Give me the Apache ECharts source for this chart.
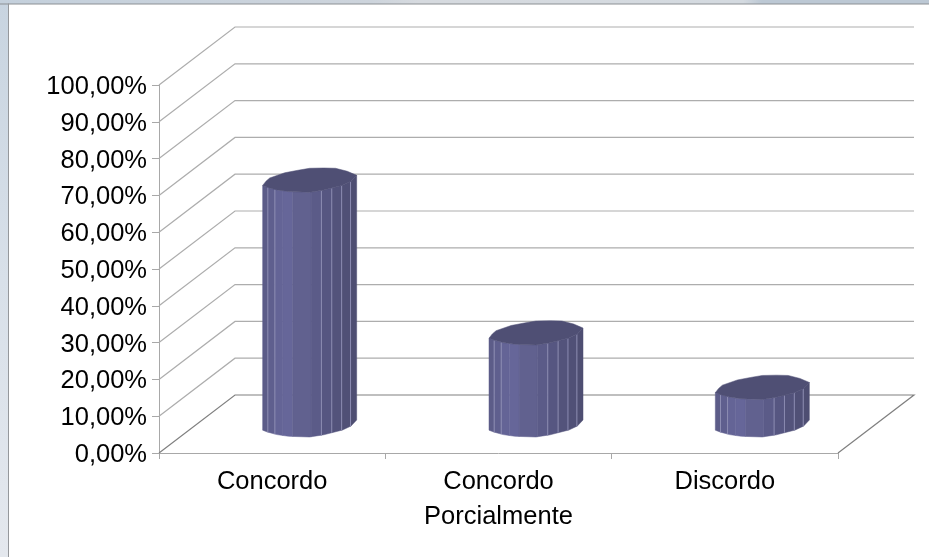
<!DOCTYPE html>
<html>
<head>
<meta charset="utf-8">
<style>html,body{margin:0;padding:0;background:#fff}#c{width:929px;height:557px}</style>
<script src="https://cdn.jsdelivr.net/npm/echarts@6/dist/echarts.min.js"></script>
</head>
<body>
<div id="c"></div>
<script>
var categories = ['Concordo', 'Concordo\nPorcialmente', 'Discordo'];
var percentValues = [66.5, 25, 10.2];
var tickValues = [0, 10, 20, 30, 40, 50, 60, 70, 80, 90, 100];
var tickLabels = ['0,00%', '10,00%', '20,00%', '30,00%', '40,00%', '50,00%', '60,00%', '70,00%', '80,00%', '90,00%', '100,00%'];

var DEPTH_X = 76, DEPTH_Y = -58;
var BAR_OFF_X = 37.5, BAR_OFF_Y = -28, R = 47;
var facetF = [-1, -0.89, -0.74, -0.57, -0.36, 0.03, 0.25, 0.47, 0.68, 0.87, 1];
var facetColor = ['#5c5c88', '#5f5f8e', '#646496', '#666699', '#61618f', '#5b5b88', '#565681', '#53537b', '#505076', '#4e4e72'];
var facetLine = [false, true, true, false, false, false, true, true, true, true, false];
var frontProfile = [[-1, 5.2], [-0.9, 7], [-0.7, 9.6], [-0.45, 11.3], [0, 12], [0.3, 9.8], [0.7, 5], [0.88, 1], [1, -5]];
var backProfile = [[-1, 5.2], [-0.93, 1], [-0.85, -2.3], [-0.53, -7.5], [-0.25, -10], [0, -12], [0.3, -12.3], [0.55, -12], [0.8, -9], [1, -5]];

function profileAt(p, f) {
  for (var i = 0; i < p.length - 1; i++) {
    if (f <= p[i + 1][0]) {
      var t = (f - p[i][0]) / (p[i + 1][0] - p[i][0]);
      return p[i][1] + t * (p[i + 1][1] - p[i][1]);
    }
  }
  return p[p.length - 1][1];
}

function renderWall(params, api) {
  var v = api.value(1);
  var cs = params.coordSys;
  var y = api.coord([0, v])[1];
  var x0 = cs.x, x1 = cs.x + cs.width;
  var stroke = v === 0 ? '#808080' : '#adadad';
  var pts = [[x0, y], [x0 + DEPTH_X, y + DEPTH_Y], [x1 + DEPTH_X, y + DEPTH_Y]];
  if (v === 0) pts.push([x1, y]);
  return { type: 'polyline', shape: { points: pts }, style: { stroke: stroke, fill: null, lineWidth: 1.2 }, silent: true };
}

function renderBar(params, api) {
  var base = api.coord([api.value(0), 0]);
  var top = api.coord([api.value(0), api.value(1)]);
  var cx = base[0] + BAR_OFF_X, yb = base[1] + BAR_OFF_Y, yt = top[1] + BAR_OFF_Y;
  function px(f) { return cx + R * f; }
  var kids = [];
  for (var i = 0; i < facetF.length - 1; i++) {
    var a = facetF[i], b = facetF[i + 1];
    var inner = frontProfile.filter(function (p) { return p[0] > a && p[0] < b; });
    var edge = [[a, profileAt(frontProfile, a)]].concat(inner, [[b, profileAt(frontProfile, b)]]);
    var pts = [];
    edge.forEach(function (p) { pts.push([px(p[0]), yt + p[1]]); });
    edge.slice().reverse().forEach(function (p) { pts.push([px(p[0]), yb + p[1]]); });
    kids.push({
      type: 'polygon',
      shape: { points: pts },
      style: { fill: facetColor[i], stroke: facetColor[i], lineWidth: 0.5 }
    });
  }
  for (var j = 0; j < facetLine.length; j++) {
    if (!facetLine[j]) continue;
    var f = facetF[j];
    kids.push({
      type: 'line',
      shape: { x1: px(f), y1: yt + profileAt(frontProfile, f), x2: px(f), y2: yb + profileAt(frontProfile, f) },
      style: { stroke: '#8c8cb2', lineWidth: 1 }
    });
  }
  var topPts = [];
  frontProfile.forEach(function (p) { topPts.push([px(p[0]), yt + p[1]]); });
  backProfile.slice().reverse().forEach(function (p) { topPts.push([px(p[0]), yt + p[1]]); });
  kids.push({ type: 'polygon', shape: { points: topPts }, style: { fill: '#4f4f74', stroke: '#4f4f74', lineWidth: 0.5 } });
  return { type: 'group', children: kids, silent: true };
}

var chart = echarts.init(document.getElementById('c'), null, { renderer: 'canvas' });
chart.setOption({
  animation: false,
  backgroundColor: '#ffffff',
  graphic: [
    { type: 'rect', z: -10, shape: { x: 0, y: 0, width: 9, height: 557 },
      style: { fill: { type: 'linear', x: 0, y: 0, x2: 0, y2: 1, colorStops: [{ offset: 0, color: '#c8d4e0' }, { offset: 0.5, color: '#d8e0e9' }, { offset: 1, color: '#e4e8ee' }] } } },
    { type: 'rect', z: -10, shape: { x: 0, y: 0, width: 929, height: 4 },
      style: { fill: { type: 'linear', x: 0, y: 0, x2: 1, y2: 0, colorStops: [{ offset: 0, color: '#c4d0dc' }, { offset: 0.4, color: '#cdd4dc' }, { offset: 0.45, color: '#d6dadf' }, { offset: 0.8, color: '#d4dae0' }, { offset: 0.82, color: '#bcc8d4' }, { offset: 1, color: '#bcc8d4' }] } } },
    { type: 'rect', z: -9, shape: { x: 0, y: 3.5, width: 929, height: 1 }, style: { fill: '#8c9094' } },
    { type: 'rect', z: -9, shape: { x: 8, y: 3.5, width: 1, height: 553.5 }, style: { fill: '#95989c' } }
  ],
  grid: { left: 159, top: 85, width: 679, height: 368, containLabel: false },
  xAxis: {
    type: 'category',
    data: categories,
    axisLine: { lineStyle: { color: '#a8a8a8', width: 1 } },
    axisTick: { show: true, length: 6, lineStyle: { color: '#a8a8a8' } },
    axisLabel: { color: '#000', fontFamily: 'Liberation Sans', fontSize: 25.5, lineHeight: 35, margin: 11, interval: 0 }
  },
  yAxis: {
    type: 'value', min: 0, max: 100, interval: 10,
    axisLine: { show: true, lineStyle: { color: '#a8a8a8', width: 1 } },
    axisTick: { show: true, length: 7, lineStyle: { color: '#a8a8a8' } },
    splitLine: { show: false },
    axisLabel: {
      color: '#000', fontFamily: 'Liberation Sans', fontSize: 25.5, margin: 12,
      formatter: function (v) { return '{t|' + tickLabels[tickValues.indexOf(v)] + '}'; },
      rich: { t: { color: '#000', fontFamily: 'Liberation Sans', fontSize: 25.5, padding: [4, 0, 0, 0] } }
    }
  },
  series: [
    { type: 'custom', z: 1, clip: false, silent: true, renderItem: renderWall, encode: { x: 0, y: 1 },
      data: tickValues.map(function (v) { return [0, v]; }) },
    { type: 'custom', z: 3, clip: false, silent: true, renderItem: renderBar, encode: { x: 0, y: 1 },
      data: percentValues.map(function (v, i) { return [i, v]; }) }
  ]
});
</script>
</body>
</html>
